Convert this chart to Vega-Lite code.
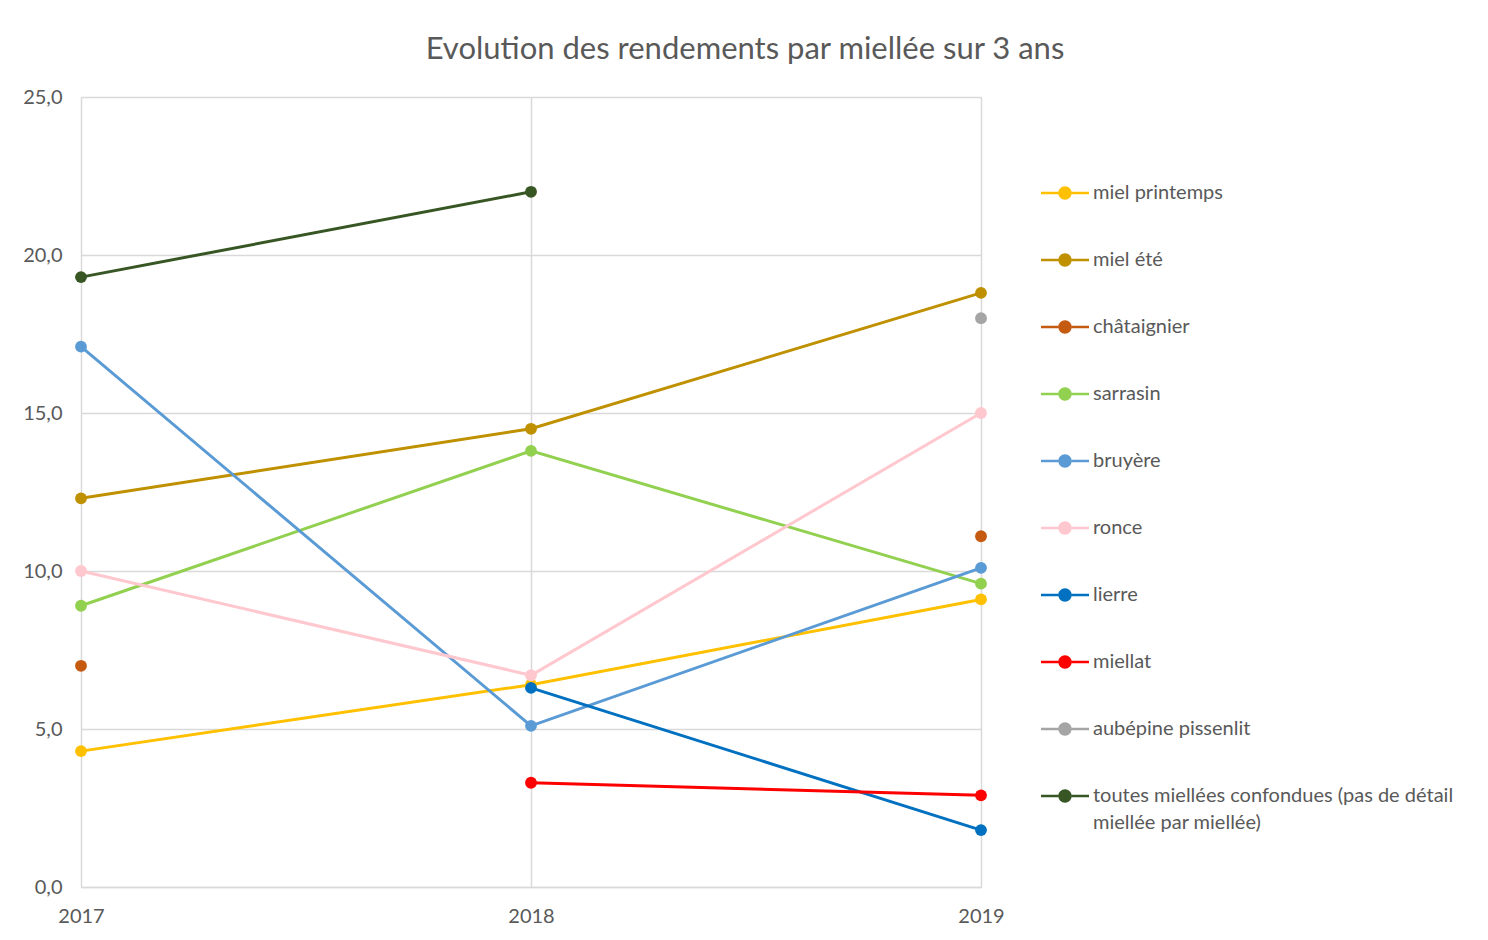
{
  "$schema": "https://vega.github.io/schema/vega-lite/v6.json",
  "width": 900,
  "height": 790,
  "autosize": {"type": "none"},
  "padding": {"left": 81, "top": 97, "right": 507, "bottom": 53},
  "background": "white",
  "title": {
    "text": "Evolution des rendements par miellée sur 3 ans",
    "font": "Lato",
    "fontSize": 31,
    "fontWeight": "normal",
    "color": "#595959",
    "anchor": "middle",
    "dx": 214,
    "offset": 21
  },
  "config": {
    "view": {"stroke": null},
    "font": "Lato"
  },
  "data": {
    "values": [
      {"miellee": "miel printemps", "annee": 2017, "rendement": 4.3},
      {"miellee": "miel printemps", "annee": 2018, "rendement": 6.4},
      {"miellee": "miel printemps", "annee": 2019, "rendement": 9.1},
      {"miellee": "miel été", "annee": 2017, "rendement": 12.3},
      {"miellee": "miel été", "annee": 2018, "rendement": 14.5},
      {"miellee": "miel été", "annee": 2019, "rendement": 18.8},
      {"miellee": "châtaignier", "annee": 2017, "rendement": 7.0},
      {"miellee": "châtaignier", "annee": 2018, "rendement": null},
      {"miellee": "châtaignier", "annee": 2019, "rendement": 11.1},
      {"miellee": "sarrasin", "annee": 2017, "rendement": 8.9},
      {"miellee": "sarrasin", "annee": 2018, "rendement": 13.8},
      {"miellee": "sarrasin", "annee": 2019, "rendement": 9.6},
      {"miellee": "bruyère", "annee": 2017, "rendement": 17.1},
      {"miellee": "bruyère", "annee": 2018, "rendement": 5.1},
      {"miellee": "bruyère", "annee": 2019, "rendement": 10.1},
      {"miellee": "ronce", "annee": 2017, "rendement": 10.0},
      {"miellee": "ronce", "annee": 2018, "rendement": 6.7},
      {"miellee": "ronce", "annee": 2019, "rendement": 15.0},
      {"miellee": "lierre", "annee": 2018, "rendement": 6.3},
      {"miellee": "lierre", "annee": 2019, "rendement": 1.8},
      {"miellee": "miellat", "annee": 2018, "rendement": 3.3},
      {"miellee": "miellat", "annee": 2019, "rendement": 2.9},
      {"miellee": "aubépine pissenlit", "annee": 2019, "rendement": 18.0},
      {"miellee": "toutes miellées confondues (pas de détail miellée par miellée)", "annee": 2017, "rendement": 19.3},
      {"miellee": "toutes miellées confondues (pas de détail miellée par miellée)", "annee": 2018, "rendement": 22.0}
    ]
  },
  "encoding": {
    "x": {
      "field": "annee",
      "type": "ordinal",
      "scale": {"type": "point", "padding": 0, "domain": [2017, 2018, 2019]},
      "axis": {
        "title": null,
        "labelAngle": 0,
        "grid": true,
        "gridColor": "#D9D9D9",
        "gridWidth": 1.5,
        "domainColor": "#D9D9D9",
        "domainWidth": 1.5,
        "ticks": false,
        "labelFont": "Lato",
        "labelFontSize": 20,
        "labelColor": "#595959",
        "labelPadding": 19,
        "labelOverlap": false
      }
    },
    "y": {
      "field": "rendement",
      "type": "quantitative",
      "scale": {"domain": [0, 25], "nice": false},
      "axis": {
        "title": null,
        "values": [0, 5, 10, 15, 20, 25],
        "labelExpr": "replace(format(datum.value, '.1f'), '.', ',')",
        "grid": true,
        "gridColor": "#D9D9D9",
        "gridWidth": 1.5,
        "domain": false,
        "ticks": false,
        "labelFont": "Lato",
        "labelFontSize": 20,
        "labelColor": "#595959",
        "labelPadding": 19,
        "labelOverlap": false
      }
    },
    "color": {
      "field": "miellee",
      "type": "nominal",
      "scale": {
        "domain": ["miel printemps", "miel été", "châtaignier", "sarrasin", "bruyère", "ronce", "lierre", "miellat", "aubépine pissenlit", "toutes miellées confondues (pas de détail miellée par miellée)"],
        "range": ["#FFC000", "#BF9000", "#C55A11", "#92D050", "#5B9BD5", "#FFC7CE", "#0070C0", "#FF0000", "#A5A5A5", "#375623"]
      },
      "legend": {
        "title": null,
        "orient": "none",
        "legendX": 960,
        "legendY": 72,
        "symbolType": "M-1,-0.055L-0.28,-0.055L-0.28,0.055L-1,0.055Z M0.28,-0.055L1,-0.055L1,0.055L0.28,0.055Z M0.28,0A0.28,0.28,0,1,1,-0.28,0A0.28,0.28,0,1,1,0.28,0Z",
        "symbolSize": 2304,
        "symbolStrokeWidth": 0,
        "symbolOpacity": 1,
        "labelFont": "Lato",
        "labelFontSize": 20,
        "labelColor": "#595959",
        "labelOffset": 4,
        "labelLimit": 600,
        "rowPadding": 33,
        "labelExpr": "datum.label == 'toutes miellées confondues (pas de détail miellée par miellée)' ? ['toutes miellées confondues (pas de détail', 'miellée par miellée)'] : datum.label",
        "encode": {"labels": {"update": {"lineHeight": {"value": 27}}}}
      }
    }
  },
  "layer": [
    {
      "mark": {"type": "line", "strokeWidth": 3, "invalid": "break-paths-show-domains"},
      "encoding": {"detail": {"field": "miellee"}}
    },
    {
      "mark": {"type": "point", "filled": true, "opacity": 1, "size": 140}
    }
  ]
}
